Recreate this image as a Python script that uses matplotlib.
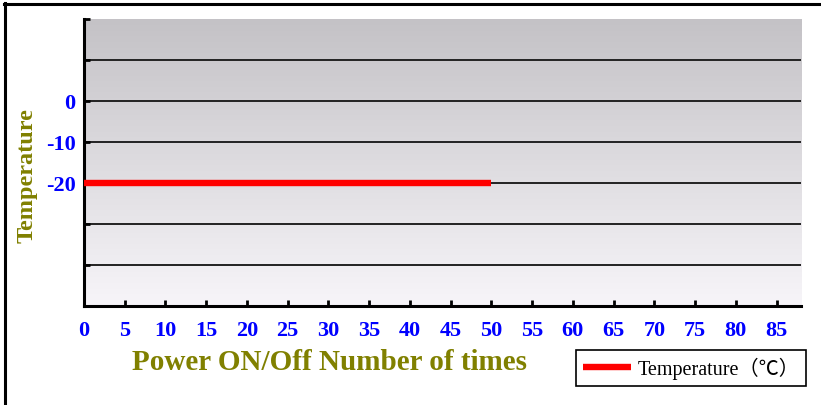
import matplotlib
matplotlib.use("Agg")
import matplotlib.pyplot as plt
import numpy as np
from matplotlib.lines import Line2D

# ---- data ----
cycles = [0, 5, 10, 15, 20, 25, 30, 35, 40, 45, 50]
temperature = [-20, -20, -20, -20, -20, -20, -20, -20, -20, -20, -20]
x_ticks = [0, 5, 10, 15, 20, 25, 30, 35, 40, 45, 50, 55, 60, 65, 70, 75, 80, 85]
y_ticks = [-50, -40, -30, -20, -10, 0, 10, 20]
y_labeled = [0, -10, -20]
series_label = "Temperature（℃）"

W, H = 821, 406
fig = plt.figure(figsize=(W / 100, H / 100), dpi=100)
fig.patch.set_facecolor("white")

ax = fig.add_axes([84 / W, 1 - 307 / H, (801 - 84) / W, (307 - 20) / H])
ax.set_xlim(0, 88)
ax.set_ylim(-50, 20)

# gradient background
top = np.array([196, 194, 198]) / 255
bot = np.array([247, 245, 249]) / 255
t = np.linspace(0, 1, 256)[:, None]
grad = top[None, None, :] * (1 - t[:, :, None]) + bot[None, None, :] * t[:, :, None]
ax.imshow(grad, extent=[0, 1, 0, 1], transform=ax.transAxes, aspect="auto", zorder=0)

# grid lines
for yv in [10, 0, -10, -20, -30, -40]:
    ax.axhline(yv, color="#222222", lw=1.4, zorder=1)

ax.plot(cycles, temperature, color="#ff0000", lw=4.6, solid_capstyle="butt", zorder=3,
        label=series_label)

for s in ["top", "right"]:
    ax.spines[s].set_visible(False)
for s in ["left", "bottom"]:
    ax.spines[s].set_color("black")
    ax.spines[s].set_linewidth(2.2)

tick_font = dict(family=["Liberation Serif", "DejaVu Serif"], weight="bold", size=16)
ax.set_xticks(x_ticks)
ax.set_xticklabels([str(v) for v in x_ticks], color="#0000ff", fontdict=tick_font)
ax.set_yticks(y_ticks)
ax.set_yticklabels([str(v) if v in y_labeled else "" for v in y_ticks], color="#0000ff",
                   fontdict=tick_font)
ax.tick_params(axis="both", direction="in", length=4, width=2, color="black")
ax.tick_params(axis="x", pad=10)
ax.tick_params(axis="y", pad=6)

label_color = "#808000"
fig.text(329 / W, 1 - 363 / H, "Power ON/Off Number of times", color=label_color,
         family=["Liberation Serif", "DejaVu Serif"], weight="bold", size=21,
         ha="center", va="center")
fig.text(27 / W, 1 - 176 / H, "Temperature", color=label_color,
         family=["Liberation Serif", "DejaVu Serif"], weight="bold", size=17.5,
         ha="center", va="center", rotation=90)

leg = ax.legend(loc="upper left", bbox_to_anchor=(576 / W, 1 - 351 / H),
                bbox_transform=fig.transFigure, fancybox=False, framealpha=1,
                edgecolor="black", borderaxespad=0, handlelength=2.4,
                handletextpad=0.3, borderpad=0.35,
                prop=dict(family=["Liberation Serif", "Noto Sans CJK SC"], size=14.5))
leg.get_frame().set_linewidth(1.2)

# figure border lines (top and left)
fig.add_artist(Line2D([4 / W, 1], [1 - 5 / H, 1 - 5 / H], transform=fig.transFigure,
                      color="black", lw=2.2))
fig.add_artist(Line2D([5 / W, 5 / W], [0, 1 - 4 / H], transform=fig.transFigure,
                      color="black", lw=2.2))

fig.savefig("out.png", dpi=100)
